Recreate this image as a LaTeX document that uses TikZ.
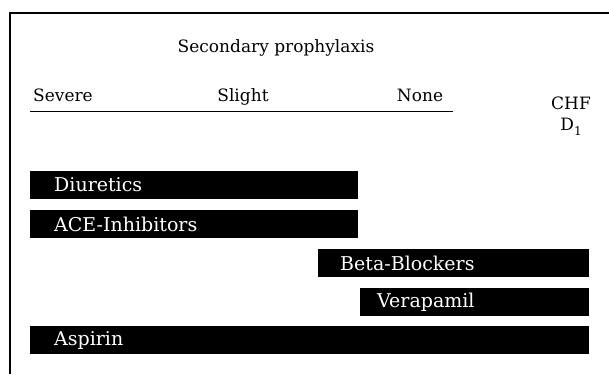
\documentclass[tikz,border=0pt]{standalone}
\usepackage{tikz}
\usepackage{fontspec}
\setmainfont{DejaVu Serif}

\begin{document}
\begin{tikzpicture}[x=1pt, y=-1pt,
    lbl/.style={font=\fontsize{17}{21}\selectfont, inner sep=0pt},
    bar/.style={fill=black, text=white, anchor=west, font=\fontsize{19}{22}\selectfont,
        minimum height=28pt, inner ysep=0pt, align=left}]
    \useasboundingbox (0,0) rectangle (609,374);

    % frame (top and left only)
    \draw[line width=1.2pt] (609,13) -- (10,13) -- (10,374);

    % heading
    \node[lbl, anchor=base] (title) at (276,53) {Secondary prophylaxis};
    \node[lbl, anchor=base west] (severe) at (33,102) {Severe};
    \node[lbl, anchor=base] (slight) at (243,102) {Slight};
    \node[lbl, anchor=base] (none) at (420,102) {None};
    \draw[line width=1pt] (30,112) -- (453,112);
    \node[lbl, align=center, anchor=north] (chf) at (571,97)
        {CHF\\D\raisebox{-0.25em}{\fontsize{12}{12}\selectfont 1}};

    % therapy bars
    \node[bar, inner xsep=24pt, text width=280pt] (diuretics) at (30,185) {Diuretics};
    \node[bar, inner xsep=24pt, text width=280pt] (ace) at (30,224) {ACE-Inhibitors};
    \node[bar, inner xsep=22pt, text width=227pt] (beta) at (318,263) {Beta-Blockers};
    \node[bar, inner xsep=17pt, text width=195pt] (verapamil) at (360,302) {Verapamil};
    \node[bar, inner xsep=24pt, text width=511pt] (aspirin) at (30,340) {Aspirin};
\end{tikzpicture}
\end{document}
